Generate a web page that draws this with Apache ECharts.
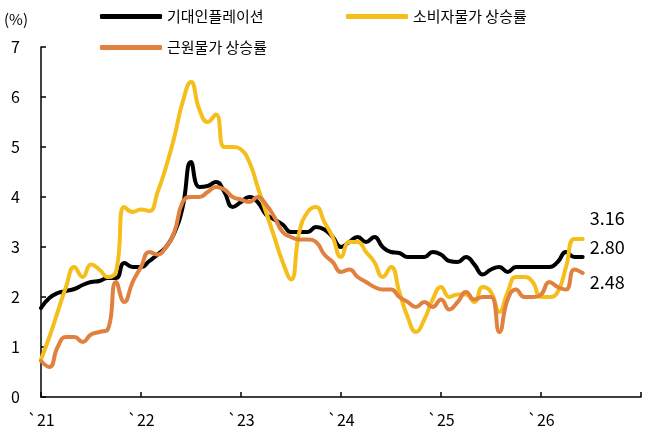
<!DOCTYPE html>
<html>
<head>
<meta charset="utf-8">
<script src="https://cdn.jsdelivr.net/npm/echarts@6/dist/echarts.min.js"></script>
<style>
  html, body { margin: 0; padding: 0; background: #fff; }
  #chart { width: 645px; height: 431px; }
</style>
</head>
<body>
<div id="chart"></div>
<script>
// months from 2021-01 to 2027-01 (axis end)
var months = []
for (var y = 2021; y <= 2027; y++) {
  for (var m = 1; m <= 12; m++) {
    if (y === 2027 && m > 1) break
    months.push(y + '-' + (m < 10 ? '0' + m : m))
  }
}

var seriesNames = ['기대인플레이션', '소비자물가 상승률', '근원물가 상승률']

var expected = [
  1.78, 1.98, 2.08, 2.12, 2.16, 2.24, 2.30, 2.32, 2.38, 2.38, 2.68, 2.60,
  2.60, 2.72, 2.85, 3.00, 3.28, 3.80, 4.70, 4.20, 4.22, 4.30, 4.10, 3.80,
  3.90, 4.00, 3.90, 3.65, 3.55, 3.45, 3.30, 3.30, 3.30, 3.40, 3.35, 3.20,
  3.00, 3.10, 3.20, 3.10, 3.20, 3.00, 2.90, 2.88, 2.80, 2.80, 2.80, 2.90,
  2.85, 2.72, 2.70, 2.80, 2.65, 2.45, 2.55, 2.60, 2.50, 2.60, 2.60, 2.60,
  2.60, 2.60, 2.70, 2.90, 2.80, 2.80
]

var cpi = [
  0.75, 1.20, 1.70, 2.20, 2.60, 2.40, 2.65, 2.55, 2.40, 2.50, 3.80, 3.70,
  3.75, 3.72, 4.10, 4.60, 5.20, 5.90, 6.30, 5.75, 5.50, 5.65, 5.00, 5.00,
  4.95, 4.70, 4.20, 3.70, 3.20, 2.70, 2.35, 3.30, 3.70, 3.80, 3.50, 3.20,
  2.80, 3.10, 3.10, 2.90, 2.70, 2.40, 2.60, 2.10, 1.60, 1.30, 1.55, 1.95,
  2.20, 2.00, 2.05, 2.05, 1.90, 2.20, 2.10, 1.70, 2.10, 2.40, 2.40, 2.30,
  2.00, 2.00, 2.10, 2.60, 3.16, 3.16
]

var core = [
  0.72, 0.60, 1.00, 1.20, 1.20, 1.10, 1.25, 1.30, 1.35, 2.30, 1.90, 2.30,
  2.60, 2.90, 2.85, 3.00, 3.30, 3.90, 4.00, 4.00, 4.10, 4.20, 4.15, 4.00,
  3.95, 3.90, 4.00, 3.85, 3.60, 3.30, 3.20, 3.15, 3.15, 3.10, 2.85, 2.70,
  2.50, 2.55, 2.40, 2.30, 2.20, 2.15, 2.15, 2.00, 1.90, 1.80, 1.90, 1.80,
  1.95, 1.75, 1.90, 2.10, 1.95, 2.00, 2.00, 1.30, 1.95, 2.15, 2.00, 2.00,
  2.05, 2.30, 2.20, 2.15, 2.55, 2.48
]

var yTicks = [0, 1, 2, 3, 4, 5, 6, 7]

var font = '"Noto Sans CJK KR", "Noto Sans", sans-serif'
var colors = ['#000000', '#F5BE1B', '#E0813F']

var myChart = echarts.init(document.getElementById('chart'))

function legendItem (name, left, top) {
  return {
    data: [name],
    left: left,
    top: top,
    icon: 'roundRect',
    itemWidth: 62,
    itemHeight: 5,
    padding: 0,
    selectedMode: false,
    textStyle: { fontFamily: font, fontSize: 15, color: '#000' }
  }
}

function lineSeries (idx, data, offsetY) {
  return {
    name: seriesNames[idx],
    type: 'line',
    data: data,
    smooth: 0.5,
    symbol: 'none',
    lineStyle: { width: 4, color: colors[idx], cap: 'round', join: 'round' },
    itemStyle: { color: colors[idx] },
    endLabel: {
      show: true,
      distance: 7,
      offset: [0, offsetY],
      formatter: function (p) { return p.value.toFixed(2) },
      fontFamily: font,
      fontSize: 18,
      color: '#000'
    },
    z: 2 + idx
  }
}

var option = {
  backgroundColor: '#fff',
  animation: false,
  title: {
    text: '(%)',
    left: 4,
    top: 12,
    padding: 0,
    textStyle: { fontFamily: font, fontSize: 15, fontWeight: 'normal', color: '#000' }
  },
  legend: [
    legendItem(seriesNames[0], 100, 9),
    legendItem(seriesNames[1], 346, 9),
    legendItem(seriesNames[2], 100, 40)
  ],
  grid: { left: 41, right: 4, top: 47, bottom: 34 },
  xAxis: {
    type: 'category',
    data: months,
    boundaryGap: false,
    axisLine: { lineStyle: { color: '#000', width: 1.5 } },
    axisTick: { inside: true, length: 5, interval: 11, lineStyle: { color: '#000', width: 1.5 } },
    axisLabel: {
      interval: 11,
      margin: 15,
      fontFamily: font,
      fontSize: 16,
      color: '#000',
      formatter: function (v) {
        var yr = v.slice(0, 4)
        if (yr === '2027') return ''
        return '`' + yr.slice(2)
      }
    },
    splitLine: { show: false }
  },
  yAxis: {
    type: 'value',
    min: yTicks[0],
    max: yTicks[yTicks.length - 1],
    interval: 1,
    axisLine: { show: true, lineStyle: { color: '#000', width: 1.5 } },
    axisTick: { show: true, inside: true, length: 5, lineStyle: { color: '#000', width: 1.5 } },
    axisLabel: { margin: 21, fontFamily: font, fontSize: 16, color: '#000' },
    splitLine: { show: false }
  },
  series: [
    lineSeries(0, expected, -10),
    lineSeries(1, cpi, -21),
    lineSeries(2, core, 9)
  ]
}
myChart.setOption(option, true)
</script>
</body>
</html>
